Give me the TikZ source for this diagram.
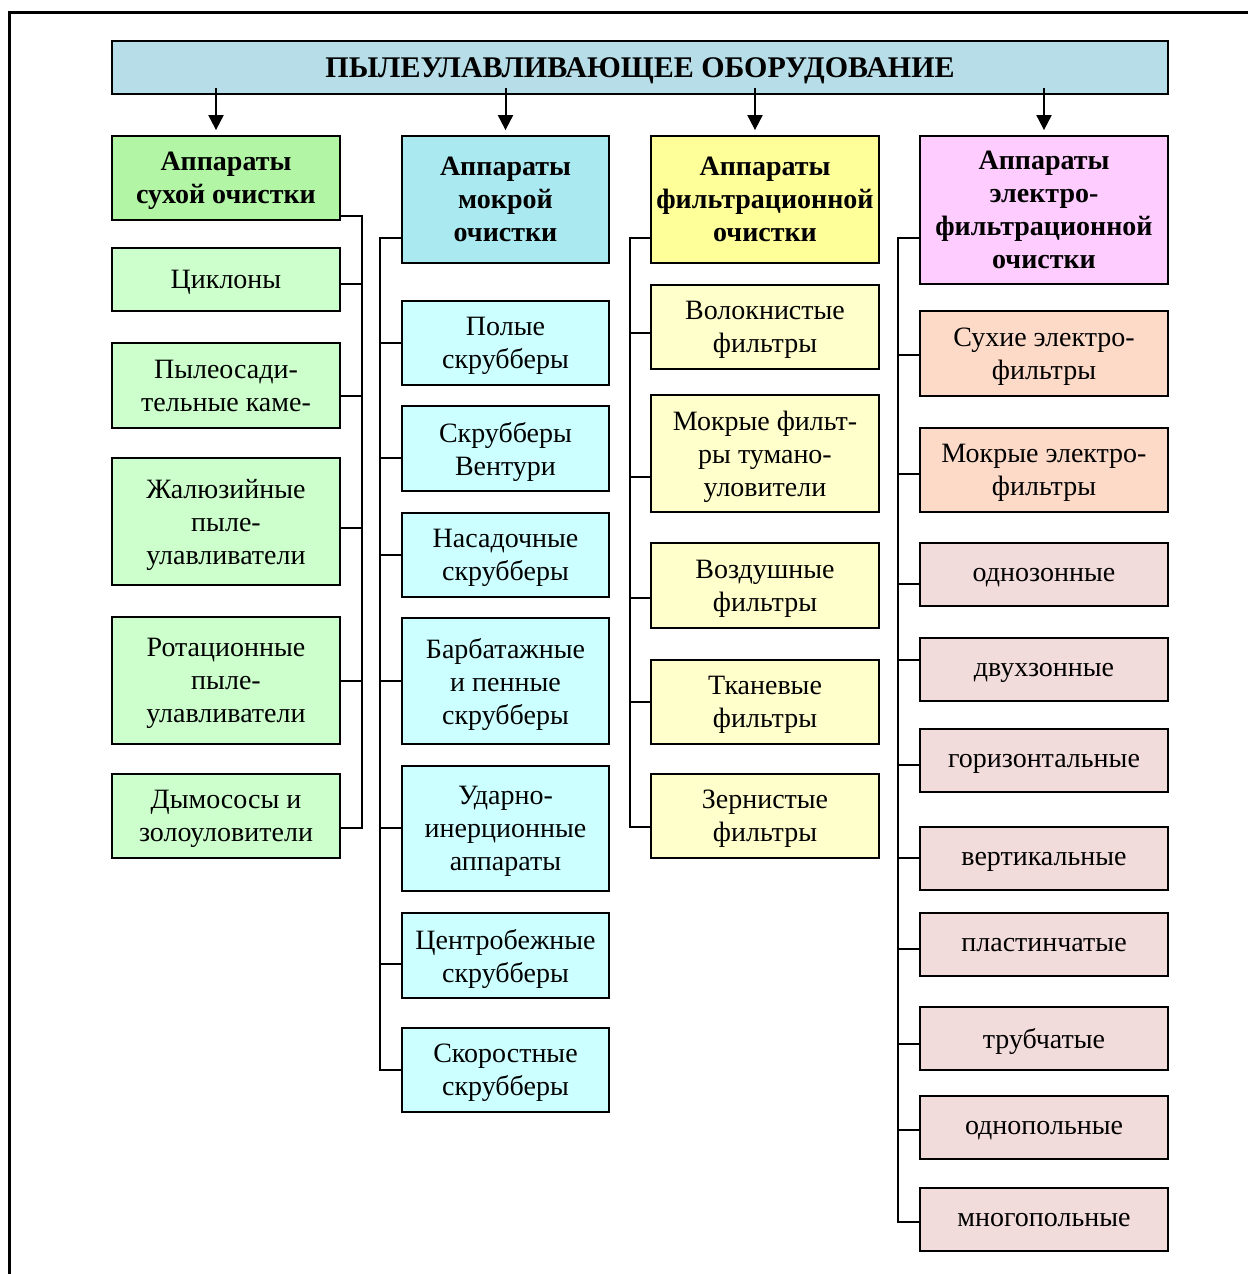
\documentclass[tikz,border=0pt]{standalone}
\usepackage{fontspec}
\setmainfont{Liberation Serif}
\usetikzlibrary{arrows.meta}

\definecolor{titleblue}{RGB}{183,222,232}
\definecolor{dryhead}{RGB}{178,245,165}
\definecolor{dryitem}{RGB}{204,255,204}
\definecolor{wethead}{RGB}{170,233,240}
\definecolor{wetitem}{RGB}{204,255,255}
\definecolor{filthead}{RGB}{255,255,153}
\definecolor{filtitem}{RGB}{255,255,204}
\definecolor{elhead}{RGB}{255,204,255}
\definecolor{elpeach}{RGB}{253,218,200}
\definecolor{elrose}{RGB}{242,220,219}

\begin{document}
\begin{tikzpicture}[x=1pt,y=-1pt,
    box/.style={draw,line width=1.8pt,align=center,inner sep=2pt,text depth=0pt,
                font=\fontsize{28}{33}\selectfont},
    head/.style={box,font=\bfseries\fontsize{28}{33}\selectfont},
    dry/.style={box,fill=dryitem,minimum width=228pt},
    wet/.style={box,fill=wetitem,minimum width=207pt},
    filt/.style={box,fill=filtitem,minimum width=228pt},
    elec/.style={box,fill=elrose,minimum width=248pt,minimum height=63pt},
    link/.style={line width=1.8pt},
    arr/.style={line width=2pt,-{Triangle[length=15pt,width=15pt]}}]
    \useasboundingbox (0,0) rectangle (1248,1274);
    \draw[line width=3pt] (1248,12) -- (9,12) -- (9,1274);

    \node[head,fill=titleblue,minimum width=1056pt,minimum height=53pt,
          font=\bfseries\fontsize{30}{33}\selectfont] (top) at (640,67.5)
        {ПЫЛЕУЛАВЛИВАЮЩЕЕ ОБОРУДОВАНИЕ};

    % сухая очистка
    \node[head,fill=dryhead,minimum width=228pt,minimum height=84pt] (d0) at (226,178) {Аппараты\\сухой очистки};
    \node[dry,minimum height=63pt]  (d1) at (226,279.5) {Циклоны};
    \node[dry,minimum height=85pt]  (d2) at (226,385.5) {Пылеосади-\\тельные каме-};
    \node[dry,minimum height=127pt] (d3) at (226,521.5) {Жалюзийные\\пыле-\\улавливатели};
    \node[dry,minimum height=127pt] (d4) at (226,680.5) {Ротационные\\пыле-\\улавливатели};
    \node[dry,minimum height=84pt]  (d5) at (226,816)   {Дымососы и\\золоуловители};

    % мокрая очистка
    \node[head,fill=wethead,minimum width=207pt,minimum height=127pt] (w0) at (505.5,199.5) {Аппараты\\мокрой\\очистки};
    \node[wet,minimum height=84pt]  (w1) at (505.5,343)    {Полые\\скрубберы};
    \node[wet,minimum height=85pt]  (w2) at (505.5,448.5)  {Скрубберы\\Вентури};
    \node[wet,minimum height=84pt]  (w3) at (505.5,555)    {Насадочные\\скрубберы};
    \node[wet,minimum height=126pt] (w4) at (505.5,681)    {Барбатажные\\и пенные\\скрубберы};
    \node[wet,minimum height=125pt] (w5) at (505.5,828.5)  {Ударно-\\инерционные\\аппараты};
    \node[wet,minimum height=85pt]  (w6) at (505.5,955.5)  {Центробежные\\скрубберы};
    \node[wet,minimum height=84pt]  (w7) at (505.5,1070)   {Скоростные\\скрубберы};

    % фильтрационная очистка
    \node[head,fill=filthead,minimum width=228pt,minimum height=127pt] (f0) at (765,199.5) {Аппараты\\фильтрационной\\очистки};
    \node[filt,minimum height=84pt]  (f1) at (765,327)   {Волокнистые\\фильтры};
    \node[filt,minimum height=117pt] (f2) at (765,453.5) {Мокрые фильт-\\ры тумано-\\уловители};
    \node[filt,minimum height=85pt]  (f3) at (765,585.5) {Воздушные\\фильтры};
    \node[filt,minimum height=84pt]  (f4) at (765,702)   {Тканевые\\фильтры};
    \node[filt,minimum height=84pt]  (f5) at (765,816)   {Зернистые\\фильтры};

    % электрофильтрационная очистка
    \node[head,fill=elhead,minimum width=248pt,minimum height=148pt] (e0) at (1044,210) {Аппараты\\электро-\\фильтрационной\\очистки};
    \node[elec,fill=elpeach,minimum height=85pt] (e1) at (1044,353.5) {Сухие электро-\\фильтры};
    \node[elec,fill=elpeach,minimum height=84pt] (e2) at (1044,470)   {Мокрые электро-\\фильтры};
    \node[elec] (e3)  at (1044,574.5)  {однозонные};
    \node[elec] (e4)  at (1044,669.5)  {двухзонные};
    \node[elec] (e5)  at (1044,760.5)  {горизонтальные};
    \node[elec] (e6)  at (1044,858.5)  {вертикальные};
    \node[elec] (e7)  at (1044,944.5)  {пластинчатые};
    \node[elec] (e8)  at (1044,1038.5) {трубчатые};
    \node[elec] (e9)  at (1044,1127.5) {однопольные};
    \node[elec] (e10) at (1044,1219.5) {многопольные};

    % стрелки от заголовка
    \foreach \n/\s in {d0/-10,w0/0,f0/-10,e0/0}
        \draw[arr] ([xshift=\s pt,yshift=47pt]\n.north) -- ([xshift=\s pt,yshift=5pt]\n.north);

    % шины
    \draw[link] ([yshift=-38pt]d0.east) -- ++(21,0) |- ([yshift=-12pt]d5.east);
    \foreach \n/\s in {d1/-4.5,d2/-10.5,d3/-6.5,d4/-0.5}
        \draw[link] ([yshift=\s pt]\n.east) -- ++(21,0);

    \draw[link] ([yshift=-38.5pt]w0.west) -- ++(-21,0) |- (w7.west);
    \foreach \n/\s in {w1/0,w2/-9.5,w3/0,w4/0,w5/0.5,w6/-8.5}
        \draw[link] ([yshift=\s pt]\n.west) -- ++(-21,0);

    \draw[link] ([yshift=-38.5pt]f0.west) -- ++(-20,0) |- ([yshift=-11pt]f5.west);
    \foreach \n/\s in {f1/-6,f2/-23.5,f3/-12.5,f4/0}
        \draw[link] ([yshift=\s pt]\n.west) -- ++(-20,0);

    \draw[link] ([yshift=-28pt]e0.west) -- ++(-21,0) |- ([yshift=-2.5pt]e10.west);
    \foreach \n/\s in {e1/-1.5,e2/-4,e3/-9.5,e4/9.5,e5/-4.5,e6/0.5,e7/-4.5,e8/-5.5,e9/-2.5}
        \draw[link] ([yshift=\s pt]\n.west) -- ++(-21,0);
\end{tikzpicture}
\end{document}
